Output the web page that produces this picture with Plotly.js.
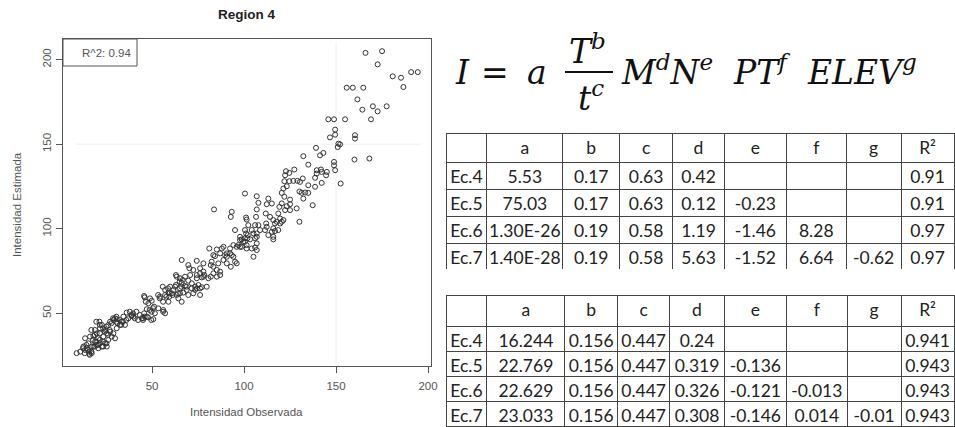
<!DOCTYPE html>
<html><head><meta charset="utf-8">
<script src="https://cdn.plot.ly/plotly-3.0.1.min.js"></script>
<style>html,body{margin:0;padding:0;background:#fff}#chart{width:955px;height:427px}</style>
</head><body><div id="chart"></div>
<script>
const obs = [
 9,11,12.7,12.5,13.6,13.4,13.6,14.3,14.5,15.2,15.4,15.9,15.9,16.1,16.3,17,17.2,17.2,17,17.9,18.1,18.1,18.9,18.9,19,19,19.7,19.7,19.9,19.9,20.7,20.8,20.8,21.4,21.6,21.6,21.6,21.7,21.7,22.7,22.7,23.4,23.4,23.4,23.5,24.3,24.5,24.5,25.2,25.2,25.4,25.4,26.1,26.2,26.2,27,27.2,27.2,27.9,28.1,28.8,29,29,29.9,29.9,
 30.6,30.6,30.8,30.8,31.1,32.4,32.6,33.3,33.5,34.2,34.4,35.3,36,36.2,37.1,37.9,38.8,39,39.7,39.8,40.6,41.5,42.4,43.3,44.4,45.1,45.1,45.7,45.7,46,46,46.6,47.1,47.1,47.8,48,48.7,48.9,49.6,49.8,49.8,
 50.5,50.7,51.1,51.5,53.3,53.4,54.2,54.3,55.8,56,56,56.1,57.1,57.1,57.1,57.8,58.7,58.9,58.9,59.4,59.6,59.8,60.7,61.2,61.6,62.5,63,63,63.4,63.4,64.1,64.3,65,65.2,65.2,65.2,65.9,66.1,66.1,66.1,66.7,67,67.9,67.9,68.8,68.8,69.7,69.7,69.7,
 70.3,70.7,71.6,71.6,72.4,72.4,73.4,73.4,74.3,74.3,74.3,74.3,75.2,76.1,76.1,76.1,76.1,77,77,77.9,77.9,77.9,78.4,79.7,80.6,81.1,81.9,81.9,82.4,83.3,83.3,83.3,83.7,84.2,85.2,85.2,85.2,86,87,87,87,87.9,88.8,88.8,89.7,
 90.6,90.6,90.6,92.4,92.4,92.8,92.8,93.3,93.3,94.2,94.2,95.1,95.1,96,96,96.9,97.8,97.8,97.8,98.7,98.7,99.6,100.5,100.5,100.5,100.5,101.1,101.1,101.4,101.4,101.4,101.8,102,102.3,103.3,104.2,104.2,105.1,105.1,106,106,106,106.5,106.9,106.9,106.9,106.9,106.9,106.9,107.8,107.8,108.7,
 111.4,111.8,112,112.3,112.3,113.2,113.2,114.1,115.1,115.1,115.9,115.9,115.9,115.9,116.8,116.8,117.8,118.6,118.6,119.2,119.6,119.6,120.5,120.5,120.5,121.4,121.4,121.9,121.9,122.3,122.3,122.8,123.2,123.2,124.6,124.6,125,125,125,126.8,127.3,128.6,129,
 130.1,130.1,130.4,131.3,131.9,132.2,132.2,133.2,134.9,134.9,134.9,137.3,138.6,138.6,139.1,139.5,139.5,141.3,141.8,142.2,142.2,143.1,144.6,145,145.8,146.7,148.9,148.9,148.9,149.5,149.5,149.5,150.9,151.3,152.2,152.5,154.9,155.8,159.1,
 160,160.3,160.3,161.6,164.3,164.8,166,168.1,169,170,172.6,172.6,175,177.5,180.8,185.3,186.6,190.8,194.4
];
const est = [
 26.4,27.3,30.3,29.3,28.3,26.4,35.2,31.3,29.3,28.3,32.2,27.3,26,25.4,36.2,27.3,30.3,26.4,40.1,34.2,36.6,30.3,37.2,30.3,40.1,33.2,45,33.2,38.1,31.3,31.3,35.2,29.3,45,43.1,34.2,38.1,41.1,32.2,43.1,30.3,41.1,33.2,30.3,36.2,39.1,40.1,32.2,42.1,32.2,38.1,30.3,37.2,43.1,34.2,40.1,45,39.1,44.1,36.2,47,46,38.1,47,35.2,
 48,45,46.5,41.1,44.1,46,43.1,43.1,45,45,48,43.1,46,50.4,47,50.9,48.4,49,49.9,48,47,50.9,46,49,47,47,46,60.2,50,59.4,48,56.8,52.4,48,47.6,55.9,51.9,58.8,46,57.4,50.9,
 53,46.5,53.9,50,60.8,52.9,58.8,59.8,65.7,56.8,50.9,51.9,60.8,63.8,50,59.8,64.7,62.2,56.8,59.8,61.8,65.7,61.8,60.8,63.8,65.7,72.6,66.7,71.6,60.8,61.8,58.8,68.7,70.7,64.7,61.8,65.7,81.5,68,56.8,69.7,62.2,71.6,66.1,63.8,65.7,78.5,69.3,60.8,
 76.6,72.6,67.7,64.7,75.6,61.8,65.7,63.8,81,70.7,72.6,64.7,66.7,76.6,73.6,64.7,60.8,71.2,65.4,79.5,71.6,74.6,72.6,65.7,70.7,88.3,78.5,71.6,80.5,84.4,77.5,73.6,111.4,83.8,87.7,75.6,71.6,79.5,85.4,74.6,72.6,88.3,89.3,81.5,84.4,
 85.4,83.4,79.5,88.3,85.4,77.5,107,110,84.4,90.3,83.4,99.2,80.5,79.5,89.3,90.3,95.2,93.3,89.3,93.7,89.3,92.3,120.8,99.2,94.3,92.3,106.6,97.2,105.4,88.3,90.3,94.3,96.2,102.1,93.7,99.2,88.3,83.4,97.2,94.3,88.9,102.1,107,119.2,111.4,97.2,95.2,91.3,87.4,115.3,102.1,99.2,
 99.2,109,103.1,114.5,101.1,117.8,96.2,107,114.9,98.2,93.7,105.1,100.2,95.2,98.6,103.1,104.1,109,99.2,112.9,106,103.1,115,104.1,121.2,123.8,105.1,118.9,128.1,131.6,111,134,125.1,113.3,133,128.1,117.2,114.5,111,128.3,135,112,128.3,
 122,104.1,127.7,121.2,129.7,142.9,117.8,121.4,137.9,125.7,121.2,113.9,130.1,124.8,147.8,132.6,134.6,143.4,135,133.6,127.1,144.8,131.6,133.6,164.7,154,164.7,139.5,137.5,158.6,155.6,134.6,148.3,150.3,149.9,126.7,164.7,183.4,183.4,
 140.9,155.3,153.3,176.5,170.4,183.4,204,141.5,164.7,172.4,169.4,197.2,205,172.4,190.1,189.3,183.8,192.6,192.6
];
const tickVals = [50, 100, 150, 200];
const plotTitle = 'Region 4';
const xTitle = 'Intensidad Observada';
const yTitle = 'Intensidad Estimada';
const fitLabel = 'R^2: 0.94';

// Tables
const colHeaders = ['', 'a', 'b', 'c', 'd', 'e', 'f', 'g', 'R²'];
const eqLabels = ['Ec.4', 'Ec.5', 'Ec.6', 'Ec.7'];
const t1a = ['5.53', '75.03', '1.30E-26', '1.40E-28'];
const t1b = ['0.17', '0.17', '0.19', '0.19'];
const t1c = ['0.63', '0.63', '0.58', '0.58'];
const t1d = ['0.42', '0.12', '1.19', '5.63'];
const t1e = ['', '-0.23', '-1.46', '-1.52'];
const t1f = ['', '', '8.28', '6.64'];
const t1g = ['', '', '', '-0.62'];
const t1r2 = ['0.91', '0.91', '0.97', '0.97'];
const t2a = ['16.244', '22.769', '22.629', '23.033'];
const t2b = ['0.156', '0.156', '0.156', '0.156'];
const t2c = ['0.447', '0.447', '0.447', '0.447'];
const t2d = ['0.24', '0.319', '0.326', '0.308'];
const t2e = ['', '-0.136', '-0.121', '-0.146'];
const t2f = ['', '', '-0.013', '0.014'];
const t2g = ['', '', '', '-0.01'];
const t2r2 = ['0.941', '0.943', '0.943', '0.943'];

const W = 955, H = 427;
const px = v => v / W;
const py = v => 1 - v / H;

const rFont = {family: 'Liberation Sans, Arial, sans-serif', size: 11.5, color: '#555'};
const tabFont = {family: 'Lato, sans-serif', size: 17.5, color: '#222'};
const mathFont = {family: 'DejaVu Serif, serif', size: 33, color: '#111'};

function tableTrace(cols, y0, y1, widths, hH, cH) {
  return {
    type: 'table',
    domain: {x: [px(446), 1], y: [py(y1), py(y0)]},
    columnwidth: widths,
    header: {values: colHeaders, height: hH, align: 'center',
      line: {color: '#444', width: 1}, fill: {color: '#fff'}, font: tabFont},
    cells: {values: cols, height: cH, align: 'center',
      line: {color: '#444', width: 1}, fill: {color: '#fff'}, font: tabFont}
  };
}

const traces = [
  {type: 'scatter', mode: 'markers', x: obs, y: est, hoverinfo: 'skip',
   marker: {symbol: 'circle-open', size: 5, color: '#333', line: {width: 1, color: '#333'}}},
  tableTrace([eqLabels, t1a, t1b, t1c, t1d, t1e, t1f, t1g, t1r2], 133, 269,
    [41, 76, 57, 53, 52, 62, 60, 55, 53], 29, 27),
  tableTrace([eqLabels, t2a, t2b, t2c, t2d, t2e, t2f, t2g, t2r2], 295, 427,
    [41, 78, 53, 52, 55, 62, 61, 54, 53], 31, 25)
];

function ann(text, x, y, font, extra) {
  return Object.assign({xref: 'paper', yref: 'paper', x: px(x), y: py(y),
    xanchor: 'center', yanchor: 'middle', text: text, showarrow: false, font: font}, extra || {});
}
function mathAnn(text, x, y, anchor, upright) {
  return ann(upright ? text : '<i>' + text + '</i>', x, y, mathFont, {xanchor: anchor});
}

const layout = {
  width: W, height: H, margin: {l: 0, r: 0, t: 0, b: 0},
  paper_bgcolor: '#fff', plot_bgcolor: '#fff', showlegend: false,
  xaxis: {domain: [px(63), px(431)], range: [1.6, 201.6], tickvals: tickVals,
    ticks: 'outside', ticklen: 6, tickcolor: '#555', showline: true, mirror: true,
    linecolor: '#555', linewidth: 1, showgrid: false, zeroline: false, tickfont: rFont,
    ticklabelstandoff: 3},
  yaxis: {domain: [py(366), py(39)], range: [18.8, 212.2], tickvals: tickVals, tickangle: -90,
    ticks: 'outside', ticklen: 6, tickcolor: '#555', showline: true, mirror: true,
    linecolor: '#555', linewidth: 1, showgrid: false, zeroline: false, tickfont: rFont},
  shapes: [
    {type: 'line', xref: 'x', yref: 'paper', x0: 150, x1: 150, y0: py(364), y1: py(42),
     line: {color: '#efefef', width: 1}, layer: 'below'},
    {type: 'line', xref: 'paper', yref: 'y', x0: px(76), x1: px(421), y0: 150, y1: 150,
     line: {color: '#efefef', width: 1}, layer: 'below'},
    {type: 'rect', xref: 'paper', yref: 'paper', x0: px(63), x1: px(137), y0: py(66), y1: py(39),
     line: {color: '#555', width: 1}},
    {type: 'line', xref: 'paper', yref: 'paper', x0: px(565), x1: px(613), y0: py(72), y1: py(72),
     line: {color: '#111', width: 1.8}}
  ],
  annotations: [
    ann('<b>' + plotTitle + '</b>', 247, 14, {family: 'Liberation Sans, Arial, sans-serif', size: 13.5, color: '#222'}),
    ann(xTitle, 247, 412, rFont),
    ann(yTitle, 17, 205, rFont, {textangle: -90}),
    ann(fitLabel, 106, 53, rFont),
    mathAnn('I', 453, 73, 'left'),
    mathAnn('=', 495, 73, 'center', true),
    mathAnn('a', 525, 73, 'left'),
    mathAnn('T<sup>b</sup>', 567, 49, 'left'),
    mathAnn('t<sup>c</sup>', 576, 96, 'left'),
    mathAnn('M<sup>d</sup>N<sup>e</sup>', 619, 71, 'left'),
    mathAnn('PT<sup>f</sup>', 731, 71, 'left'),
    mathAnn('ELEV<sup>g</sup>', 805, 71, 'left')
  ]
};

Plotly.newPlot('chart', traces, layout, {displayModeBar: false, staticPlot: true});
</script>
</body></html>
